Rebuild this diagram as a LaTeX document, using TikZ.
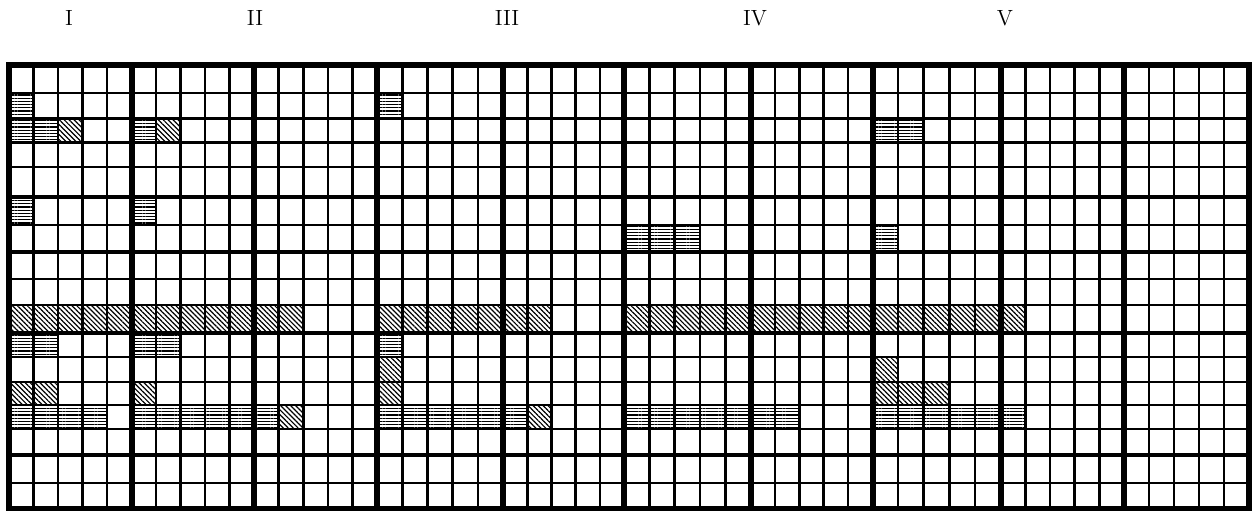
\documentclass[tikz,border=0pt]{standalone}
\usetikzlibrary{patterns.meta}
\tikzset{
  thinline/.style={line width=1.3pt},
  thickv/.style={line width=3pt},
  thickh/.style={line width=2.3pt},
  border/.style={line width=2.8pt},
  hfill/.style={pattern={Lines[angle=0,distance=1.6pt,line width=0.55pt]}},
  dfill/.style={pattern={Lines[angle=-45,distance=1.75pt,line width=0.6pt]}},
  lab/.style={font=\fontsize{11}{12}\selectfont, inner sep=0pt}
}
\begin{document}
\begin{tikzpicture}[x=0.5pt,y=-0.5pt]
\useasboundingbox (0,0) rectangle (1252,511);
\def\xs{{9,131.5,254,377,503,624,750.5,872.5,1000.5,1124,1249}}
\def\ys{{65,93,118.5,142.5,167,197,225,252,279,305,333,357,382,405,429,455,483,508.5}}
% column boundaries
\foreach \b in {0,...,9}{
  \foreach \m in {0,...,4}{
    \pgfmathsetmacro\xx{\xs[\b]+\m*(\xs[\b+1]-\xs[\b])/5}
    \pgfmathtruncatemacro\k{5*\b+\m}
    \coordinate (x\k) at (\xx,0);
  }
}
\coordinate (x50) at (1249,0);
% row boundaries
\foreach \r in {0,...,17}{
  \pgfmathsetmacro\yy{\ys[\r]}
  \coordinate (y\r) at (0,\yy);
}
% horizontal-line cells (col/row)
\foreach \c/\r in {0/1,15/1,
  0/2,1/2,5/2,35/2,36/2,
  0/5,5/5,
  25/6,26/6,27/6,35/6,
  0/10,1/10,5/10,6/10,15/10,
  0/13,1/13,2/13,3/13,5/13,6/13,7/13,8/13,9/13,10/13,
  15/13,16/13,17/13,18/13,19/13,20/13,
  25/13,26/13,27/13,28/13,29/13,30/13,31/13,
  35/13,36/13,37/13,38/13,39/13,40/13}{
  \pgfmathtruncatemacro\cc{\c+1}
  \pgfmathtruncatemacro\rr{\r+1}
  \path[hfill] (x\c |- y\r) rectangle (x\cc |- y\rr);
}
% diagonal cells
\foreach \c/\r in {2/2,6/2,
  0/9,1/9,2/9,3/9,4/9,5/9,6/9,7/9,8/9,9/9,10/9,11/9,
  15/9,16/9,17/9,18/9,19/9,20/9,21/9,
  25/9,26/9,27/9,28/9,29/9,30/9,31/9,32/9,33/9,34/9,
  35/9,36/9,37/9,38/9,39/9,40/9,
  15/11,35/11,
  0/12,1/12,5/12,15/12,35/12,36/12,37/12,
  11/13,21/13}{
  \pgfmathtruncatemacro\cc{\c+1}
  \pgfmathtruncatemacro\rr{\r+1}
  \path[dfill] (x\c |- y\r) rectangle (x\cc |- y\rr);
}
% thin vertical lines
\foreach \k in {1,...,49}{
  \pgfmathtruncatemacro\mm{mod(\k,5)}
  \ifnum\mm>0 \draw[thinline] (x\k |- y0) -- (x\k |- y17);\fi
}
% thin horizontal lines
\foreach \r in {1,2,3,4,6,8,9,11,12,13,14,16}{
  \draw[thinline] (x0 |- y\r) -- (x50 |- y\r);
}
% thick horizontal lines
\foreach \r in {5,7,10,15}{
  \draw[thickh] (x0 |- y\r) -- (x50 |- y\r);
}
% thick vertical lines
\foreach \k in {5,10,...,45}{
  \draw[thickv] (x\k |- y0) -- (x\k |- y17);
}
% border
\draw[border] (x0 |- y0) rectangle (x50 |- y17);
% labels
\node[lab] (l1) at (69,18) {I};
\node[lab] (l2) at (255,18) {II};
\node[lab] (l3) at (507,18) {III};
\node[lab] (l4) at (755,18) {IV};
\node[lab] (l5) at (1005,18) {V};
\end{tikzpicture}
\end{document}
